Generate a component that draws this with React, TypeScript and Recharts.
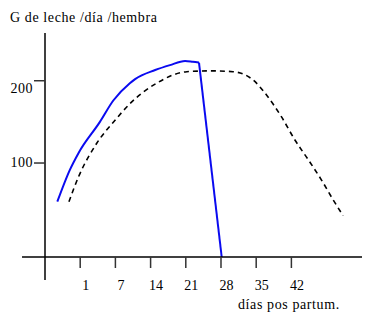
import { LineChart, Line, XAxis, YAxis, ReferenceLine, Label } from "recharts";

// x positions are in tick steps (1 step = one labelled tick), y in g of milk
const dayTicks = [1, 2, 3, 4, 5, 6, 7];
const dayLabels = ["1", "7", "14", "21", "28", "35", "42"];
const milkTicks = [100, 200];

const blueX = [0.35, 0.71, 0.95, 1.56, 1.94, 2.41, 2.56, 3.13, 3.55, 3.98, 4.2, 4.375, 5.02];
const blueY = [53, 92, 112, 150, 176, 197, 202, 213, 219, 224, 223, 222, -14.2];

const dashX = [0.68, 0.95, 1.47, 1.99, 2.41, 3.17, 4.03, 4.7, 5.34, 5.91, 6.25, 6.72, 7.1, 7.48, 7.86, 8.19, 8.47];
const dashY = [53, 83, 124, 152, 172, 197, 211, 212, 211, 201, 185, 156, 128, 104, 79, 55, 36];

const blueData = blueX.map((x, i) => ({ x, y: blueY[i] }));
// rising part is a smooth curve, the final drop is a straight stroke
const blueRise = blueData.slice(0, -1);
const blueDrop = blueData.slice(-2);
const dashData = dashX.map((x, i) => ({ x, y: dashY[i] }));

const font = "'Liberation Serif', 'Times New Roman', serif";

function DayTick(props: any) {
  const { x, y, payload } = props;
  const label = dayLabels[dayTicks.indexOf(payload.value)];
  return (
    <text x={x + 5.5} y={y + 20} textAnchor="middle" fontFamily={font} fontSize={14} fill="#000">
      {label}
    </text>
  );
}

function MilkTick(props: any) {
  const { y, payload } = props;
  const dy = payload.value === 200 ? 12 : 4;
  return (
    <text x={33} y={y + dy} textAnchor="end" fontFamily={font} fontSize={14} fill="#000" letterSpacing={0.5}>
      {payload.value}
    </text>
  );
}

function Texts() {
  return (
    <g>
      <text x={10} y={22} fontFamily={font} fontSize={14} fill="#000" letterSpacing={0.6}>
        G de leche /día /hembra
      </text>
      <text x={238} y={308.5} fontFamily={font} fontSize={14} fill="#000" letterSpacing={0.6}>
        días pos partum.
      </text>
    </g>
  );
}

export default function App() {
  return (
    <div style={{ width: 370, height: 318, background: "#fff" }}>
      <style>{"body{margin:0}"}</style>
      <LineChart width={370} height={318} margin={{ top: 33, right: 8, bottom: 0, left: 0 }}>
        <XAxis
          type="number"
          dataKey="x"
          domain={[0, 9.006]}
          ticks={dayTicks}
          allowDataOverflow
          height={61}
          tickSize={11}
          axisLine={{ stroke: "#000", strokeWidth: 1.5 }}
          tickLine={{ stroke: "#333", strokeWidth: 1.5 }}
          tick={<DayTick />}
        >
          <Label content={() => <Texts />} />
        </XAxis>
        <YAxis
          type="number"
          dataKey="y"
          domain={[-14.2, 258]}
          ticks={milkTicks}
          allowDataOverflow
          width={45}
          tickSize={11}
          axisLine={{ stroke: "#000", strokeWidth: 1.5 }}
          tickLine={{ stroke: "#333", strokeWidth: 1.5 }}
          tick={<MilkTick />}
        />
        <ReferenceLine
          segment={[{ x: -0.653, y: -14.2 }, { x: 0, y: -14.2 }]}
          stroke="#000"
          strokeWidth={1.5}
          ifOverflow="visible"
        />
        <ReferenceLine
          segment={[{ x: 0, y: -14.2 }, { x: 0, y: -42 }]}
          stroke="#000"
          strokeWidth={1.5}
          ifOverflow="visible"
        />
        <Line
          data={dashData}
          dataKey="y"
          type="monotone"
          stroke="#000"
          strokeWidth={1.6}
          strokeDasharray="5 4"
          dot={false}
          isAnimationActive={false}
        />
        <Line
          data={blueRise}
          dataKey="y"
          type="monotone"
          stroke="#0a0af0"
          strokeWidth={2}
          dot={false}
          isAnimationActive={false}
        />
        <Line
          data={blueDrop}
          dataKey="y"
          type="linear"
          stroke="#0a0af0"
          strokeWidth={2}
          dot={false}
          isAnimationActive={false}
        />
      </LineChart>
    </div>
  );
}
